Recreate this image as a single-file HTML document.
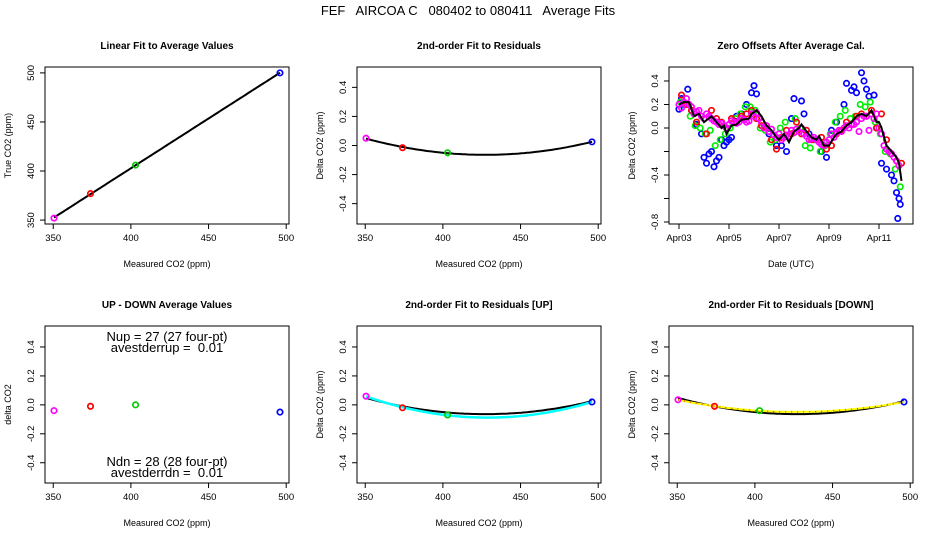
<!DOCTYPE html>
<html><head><meta charset="utf-8"><style>
body{margin:0;background:#fff}
svg{display:block;font-family:"Liberation Sans",sans-serif}
</style></head><body>
<svg id="chart" width="936" height="540" viewBox="0 0 936 540" xmlns="http://www.w3.org/2000/svg">
<rect width="936" height="540" fill="#fff"/>
<text x="468" y="15" font-size="13" text-anchor="middle" style="white-space:pre">FEF   AIRCOA C   080402 to 080411   Average Fits</text>
</svg>
<script>
// ---- data ----
const measured = [350.5, 374, 403, 496];
const trueVals = [352, 377, 406, 500];
const pointColors = ["#ff00ff", "#ff0000", "#00cc00", "#0000ff"];
const residAll = [0.05, -0.015, -0.05, 0.025];
const upDown = [-0.04, -0.01, 0.0, -0.05];
const residUp = [0.06, -0.02, -0.07, 0.02];
const residDn = [0.035, -0.01, -0.04, 0.02];
const dateTicks = [0, 2, 4, 6, 8];
const dateLabels = ["Apr03", "Apr05", "Apr07", "Apr09", "Apr11"];
const lineT = [0,0.2,0.4,0.6,0.8,1.0,1.3,1.5,1.7,1.8,1.9,2.1,2.3,2.5,2.8,2.9,3.1,3.3,3.5,3.7,3.9,4.0,4.2,4.4,4.6,4.8,4.9,5.1,5.3,5.5,5.6,5.8,6.0,6.2,6.3,6.5,6.7,6.9,7.1,7.3,7.5,7.7,7.9,8.0,8.1,8.3,8.5,8.7,8.8,8.9];
const lineV = [0.2,0.22,0.22,0.1,0.12,0.05,0.1,0.05,0.0,0.02,-0.05,0.02,0.03,0.07,0.08,0.12,0.15,0.1,0.02,-0.02,-0.08,-0.1,-0.05,-0.12,-0.03,0.0,0.03,-0.03,-0.08,-0.1,-0.07,-0.15,-0.15,-0.08,-0.05,-0.03,0.02,0.05,0.1,0.12,0.1,0.15,0.05,0.05,0.0,-0.15,-0.2,-0.25,-0.3,-0.45];
const magT = [0,0.1,0.2,0.3,0.4,0.5,0.6,0.7,0.8,0.9,1.0,1.1,1.2,1.3,1.4,1.5,1.6,1.7,1.8,1.9,2.0,2.1,2.2,2.3,2.4,2.5,2.6,2.7,2.8,2.9,3.0,3.1,3.2,3.3,3.4,3.5,3.6,3.7,3.8,3.9,4.0,4.1,4.2,4.3,4.4,4.5,4.6,4.7,4.8,4.9,5.0,5.1,5.2,5.3,5.4,5.5,5.6,5.7,5.8,5.9,6.0,6.1,6.2,6.3,6.4,6.5,6.6,6.7,6.8,6.9,7.0,7.1,7.2,7.3,7.4,7.5,7.6,7.7,7.8,7.9,8.0,8.1,8.2,8.3,8.4,8.5,8.6,8.7,8.8];
const magV = [0.2,0.17,0.22,0.25,0.2,0.18,0.12,0.14,0.15,0.1,0.08,0.12,0.1,0.08,0.06,0.05,0.03,0.04,0.02,0.0,0.03,0.06,0.05,0.04,0.05,0.08,0.07,0.05,0.06,0.12,0.1,0.13,0.08,0.05,0.0,0.02,-0.03,-0.01,-0.06,-0.08,-0.05,-0.1,-0.08,-0.06,-0.07,-0.02,-0.04,-0.01,-0.03,0.0,-0.05,-0.07,-0.1,-0.09,-0.08,-0.1,-0.12,-0.14,-0.15,-0.12,-0.1,-0.05,-0.08,-0.04,-0.02,-0.03,0.0,0.02,0.0,0.03,0.03,0.05,-0.03,0.08,0.1,0.1,-0.02,0.12,0.08,0.12,0.0,-0.05,-0.15,-0.18,-0.2,-0.22,-0.25,-0.28,-0.32];
const redT = [0.1,0.3,0.5,0.7,0.9,1.1,1.3,1.5,1.7,1.9,2.1,2.3,2.5,2.7,2.9,3.1,3.3,3.5,3.7,3.9,4.1,4.3,4.5,4.7,4.9,5.1,5.3,5.5,5.7,5.9,6.1,6.3,6.5,6.7,6.9,7.1,7.3,7.5,7.7,7.9,8.1,8.3,8.5,8.7,8.9];
const redV = [0.28,0.2,0.15,0.05,0.1,-0.05,0.15,0.08,0.05,0.0,0.08,0.05,0.1,0.12,0.15,0.08,0.02,0.0,-0.1,-0.18,-0.08,-0.02,-0.05,0.05,-0.05,-0.02,-0.1,-0.1,-0.08,-0.18,-0.15,-0.05,-0.02,0.05,0.03,0.1,0.12,0.1,0.15,0.0,0.12,-0.1,-0.22,-0.28,-0.3];
const grnT = [0.05,0.25,0.45,0.65,0.85,1.05,1.25,1.45,1.65,1.85,2.05,2.25,2.45,2.65,2.85,3.05,3.25,3.45,3.65,3.85,4.05,4.25,4.45,4.65,4.85,5.05,5.25,5.45,5.65,5.85,6.05,6.25,6.45,6.65,6.85,7.05,7.25,7.45,7.65,7.85,8.05,8.25,8.45,8.65,8.85];
const grnV = [0.22,0.2,0.1,0.02,0.0,-0.05,-0.02,-0.15,-0.1,-0.05,0.0,0.08,0.12,0.18,0.18,0.15,0.0,-0.02,-0.12,-0.1,0.0,0.05,-0.05,0.08,0.0,-0.15,-0.17,-0.1,-0.2,-0.15,-0.05,0.05,0.1,0.15,0.08,0.1,0.2,0.18,0.22,0.05,-0.05,-0.2,-0.22,-0.35,-0.5];
const bluT = [0.0,0.1,0.2,0.35,0.5,0.7,0.9,1.0,1.1,1.2,1.3,1.4,1.5,1.6,1.7,1.8,1.9,2.0,2.1,2.3,2.5,2.7,2.9,3.0,3.1,3.3,3.6,3.9,4.1,4.3,4.5,4.6,4.9,5.0,5.2,5.4,5.7,5.9,6.1,6.3,6.6,6.7,6.9,7.0,7.1,7.3,7.4,7.5,7.6,7.8,7.9,8.1,8.3,8.5,8.6,8.7,8.8,8.85,8.75];
const bluV = [0.16,0.25,0.2,0.33,0.15,0.03,-0.05,-0.25,-0.3,-0.22,-0.2,-0.33,-0.28,-0.25,-0.1,-0.15,-0.12,-0.1,-0.08,0.1,0.12,0.2,0.3,0.36,0.29,0.05,-0.05,-0.15,-0.15,-0.2,0.08,0.25,0.23,0.12,-0.05,-0.1,-0.2,-0.25,-0.02,0.05,0.2,0.38,0.32,0.35,0.3,0.47,0.4,0.33,0.27,0.28,0.0,-0.3,-0.35,-0.4,-0.45,-0.55,-0.6,-0.65,-0.77];

// ---- helpers ----
const svg = document.getElementById('chart');
const NS = "http://www.w3.org/2000/svg";
function mk(tag, attrs, parent){ const e=document.createElementNS(NS,tag); for(const k in attrs) e.setAttribute(k,attrs[k]); (parent||svg).appendChild(e); return e; }
function txt(s, attrs, parent){ const e=mk('text',attrs,parent); e.textContent=s; return e; }
function scale(d0,d1,r0,r1){ return v => r0 + (v-d0)/(d1-d0)*(r1-r0); }
function polyfit(xs, ys, deg){
  const n=deg+1, A=[], b=[];
  for(let i=0;i<n;i++){A.push(new Array(n).fill(0));b.push(0);}
  for(let k=0;k<xs.length;k++){ const x=(xs[k]-420)/100;
    for(let i=0;i<n;i++){ for(let j=0;j<n;j++) A[i][j]+=Math.pow(x,i+j); b[i]+=ys[k]*Math.pow(x,i);} }
  for(let i=0;i<n;i++){ let p=i; for(let r=i+1;r<n;r++) if(Math.abs(A[r][i])>Math.abs(A[p][i])) p=r;
    [A[i],A[p]]=[A[p],A[i]]; [b[i],b[p]]=[b[p],b[i]];
    for(let r=0;r<n;r++){ if(r===i) continue; const f=A[r][i]/A[i][i]; for(let c=i;c<n;c++) A[r][c]-=f*A[i][c]; b[r]-=f*b[i]; } }
  const co=b.map((v,i)=>v/A[i][i]);
  return x => { const u=(x-420)/100; let s=0; co.forEach((c,i)=>s+=c*Math.pow(u,i)); return s; };
}

function panel(name, box, xd, yd, title, xlab, ylab){
  const g = mk('g',{});
  
  
  const sx = scale(xd[0],xd[1],box.x0,box.x1), sy = scale(yd[0],yd[1],box.y1,box.y0);
  const r = mk('rect',{x:box.x0,y:box.y0,width:box.x1-box.x0,height:box.y1-box.y0,fill:'none',stroke:'#000','stroke-width':1},g);
  
  
  const t = txt(title,{x:(box.x0+box.x1)/2,y:box.y0-18,'font-size':10,'font-weight':'bold','text-anchor':'middle'},g);
  
  
  const xl = txt(xlab,{x:(box.x0+box.x1)/2,y:box.y1+43,'font-size':9,'text-anchor':'middle'},g);
  
  
  const cx = box.x0-34, cy=(box.y0+box.y1)/2;
  const yl = txt(ylab,{x:cx,y:cy,'font-size':9,'text-anchor':'middle',transform:`rotate(-90 ${cx} ${cy})`},g);
  
  
  return {g,sx,sy,box};
}
function xTicks(p, vals, labels){
  vals.forEach((v,i)=>{ const x=p.sx(v);
    mk('line',{x1:x,x2:x,y1:p.box.y1,y2:p.box.y1+5,stroke:'#000'},p.g);
    const l = txt(labels[i],{x:x,y:p.box.y1+17,'font-size':9.5,'text-anchor':'middle'},p.g);
    
    
  });
}
function yTicks(p, vals, labels){
  vals.forEach((v,i)=>{ const y=p.sy(v);
    mk('line',{x1:p.box.x0-5,x2:p.box.x0,y1:y,y2:y,stroke:'#000'},p.g);
    if(labels[i]!==''){ const x=p.box.x0-11;
      const l = txt(labels[i],{x:x,y:y,'font-size':9.5,'text-anchor':'middle',transform:`rotate(-90 ${x} ${y})`},p.g);
      
      
    }
  });
}
function pts(p, xs, ys, colors, nm){
  xs.forEach((x,i)=>{ const c = mk('circle',{cx:p.sx(x),cy:p.sy(ys[i]),r:2.7,fill:'none',stroke:Array.isArray(colors)?colors[i]:colors,'stroke-width':1.7},p.g);
    
    
  });
}
function curve(p, f, x0, x1, attrs, nm){
  let d=''; for(let i=0;i<=80;i++){ const x=x0+(x1-x0)*i/80; d+=(i?'L':'M')+p.sx(x).toFixed(1)+','+p.sy(f(x)).toFixed(1); }
  const e = mk('path',Object.assign({d:d,fill:'none'},attrs),p.g);
  
  
}
const xv=[350,400,450,500], xlbl=['350','400','450','500'];
const dv=[-0.4,-0.2,0,0.2,0.4], dl=['-0.4','-0.2','0.0','0.2','0.4'];
const XD=[344.7,501.8];

// Panel 1
let p = panel('linear-fit-panel',{x0:45,x1:289,y0:67,y1:224},XD,[346,506],'Linear Fit to Average Values','Measured CO2 (ppm)','True CO2 (ppm)');
xTicks(p,xv,xlbl); yTicks(p,[350,400,450,500],['350','400','450','500']);
const lin = polyfit(measured,trueVals,1);
curve(p,lin,measured[0],measured[3],{stroke:'#000','stroke-width':2},'linear-fit-line');
pts(p,measured,trueVals,pointColors,'calibration-point');

// Panel 2
p = panel('residual-fit-panel',{x0:357,x1:601,y0:67,y1:224},XD,[-0.54,0.54],'2nd-order Fit to Residuals','Measured CO2 (ppm)','Delta CO2 (ppm)');
xTicks(p,xv,xlbl); yTicks(p,dv,dl);
const qAll = polyfit(measured,residAll,2);
curve(p,qAll,measured[0],measured[3],{stroke:'#000','stroke-width':2},'quadratic-fit-line');
pts(p,measured,residAll,pointColors,'residual-point');

// Panel 3
p = panel('zero-offsets-panel',{x0:669,x1:913,y0:67,y1:224},[-0.4,9.36],[-0.817,0.519],'Zero Offsets After Average Cal.','Date (UTC)','Delta CO2 (ppm)');
xTicks(p,dateTicks,dateLabels); yTicks(p,[-0.8,-0.6,-0.4,-0.2,0,0.2,0.4],['-0.8','','-0.4','','0.0','0.2','0.4']);
pts(p,bluT,bluV,'#0000ff','offset-point-blue');
pts(p,grnT,grnV,'#00ee00','offset-point-green');
pts(p,redT,redV,'#ff0000','offset-point-red');
pts(p,magT,magV,'#ff00ff','offset-point-magenta');
{ let d=''; lineT.forEach((t,i)=>{ d+=(i?'L':'M')+p.sx(t).toFixed(1)+','+p.sy(lineV[i]).toFixed(1); });
  const e=mk('path',{d:d,fill:'none',stroke:'#000','stroke-width':2},p.g);
  
   }

// Panel 4
p = panel('up-down-panel',{x0:45,x1:289,y0:326,y1:483},XD,[-0.54,0.545],'UP - DOWN Average Values','Measured CO2 (ppm)','delta CO2');
xTicks(p,xv,xlbl); yTicks(p,dv,dl);
pts(p,measured,upDown,pointColors,'up-down-point');
[['Nup = 27 (27 four-pt)',341,'nup-annotation'],['avestderrup =  0.01',352,'stderr-up-annotation'],['Ndn = 28 (28 four-pt)',466,'ndn-annotation'],['avestderrdn =  0.01',477,'stderr-dn-annotation']].forEach(a=>{
  const e=txt(a[0],{x:167,y:a[1],'font-size':13,'text-anchor':'middle',style:'white-space:pre'},p.g);
  
  
});

// Panel 5
p = panel('residual-up-panel',{x0:357,x1:601,y0:326,y1:483},XD,[-0.54,0.545],'2nd-order Fit to Residuals [UP]','Measured CO2 (ppm)','Delta CO2 (ppm)');
xTicks(p,xv,xlbl); yTicks(p,dv,dl);
curve(p,qAll,measured[0],measured[3],{stroke:'#000','stroke-width':2},'overall-fit-line');
curve(p,polyfit(measured,residUp,2),measured[0],measured[3],{stroke:'#00ffff','stroke-width':2.5},'up-fit-line');
pts(p,measured,residUp,pointColors,'up-residual-point');

// Panel 6
p = panel('residual-down-panel',{x0:669,x1:913,y0:326,y1:483},XD,[-0.54,0.545],'2nd-order Fit to Residuals [DOWN]','Measured CO2 (ppm)','Delta CO2 (ppm)');
xTicks(p,xv,xlbl); yTicks(p,dv,dl);
curve(p,qAll,measured[0],measured[3],{stroke:'#000','stroke-width':2},'overall-fit-line');
const qDn = polyfit(measured,residDn,2);
curve(p,qDn,measured[0],measured[3],{stroke:'#ffff00','stroke-width':2},'down-fit-line');
curve(p,qDn,measured[0],measured[3],{stroke:'#ff0000','stroke-width':1,'stroke-dasharray':'1 5'},'down-fit-dots');
pts(p,measured,residDn,pointColors,'down-residual-point');
</script>
</body></html>
